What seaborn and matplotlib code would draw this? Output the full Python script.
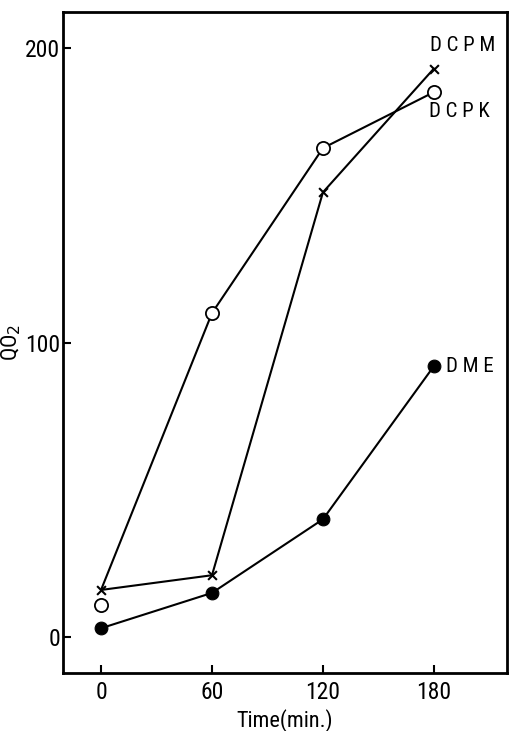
import matplotlib
matplotlib.use("Agg")
import matplotlib.pyplot as plt
import seaborn as sns
from matplotlib import font_manager

# Oxygen uptake (QO2) over time for three treatments
time_min = [0, 60, 120, 180]
dcpm = [16, 21, 151, 193]
dcpk = [11, 110, 166, 185]
dme = [3, 15, 40, 92]

x_ticks = [0, 60, 120, 180]
y_ticks = [0, 100, 200]

sns.set_theme(style="white")

# Prefer a narrow sans face when one is available
installed = {f.name for f in font_manager.fontManager.ttflist}
narrow = [n for n in ["Roboto Condensed", "Liberation Sans Narrow",
                      "Open Sans Condensed", "DejaVu Sans Condensed"]
          if n in installed]
family = (narrow or ["Liberation Sans"]) + ["DejaVu Sans"]
plt.rcParams["font.family"] = family

fig = plt.figure(figsize=(5.09, 7.31), dpi=100)
ax = fig.add_axes([0.124, 0.0793, 0.872, 0.9043])

line_kw = dict(color="black", linewidth=1.5, ax=ax, legend=False, sort=False)

# DCPK line starts from the shared zero-time reading of DCPM
dcpk_path = [dcpm[0]] + dcpk[1:]
sns.lineplot(x=time_min, y=dcpk_path, **line_kw)
sns.lineplot(x=time_min, y=dcpm, **line_kw)
sns.lineplot(x=time_min, y=dme, **line_kw)

sns.scatterplot(x=time_min, y=dcpk, marker="o", s=90, facecolor="white",
                edgecolor="black", linewidth=1.3, ax=ax, zorder=4, legend=False)
sns.scatterplot(x=time_min, y=dme, marker="o", s=85, color="black",
                edgecolor="black", ax=ax, zorder=4, legend=False)
sns.scatterplot(x=time_min, y=dcpm, marker="x", s=40, color="black",
                linewidth=1.5, ax=ax, zorder=4, legend=False)

label_kw = dict(textcoords="offset pixels", fontsize=15, ha="left",
                va="center", color="black")
ax.annotate("D C P M", (time_min[-1], dcpm[-1]), xytext=(-4, 23), **label_kw)
ax.annotate("D C P K", (time_min[-1], dcpk[-1]), xytext=(-5, -19), **label_kw)
ax.annotate("D M E", (time_min[-1], dme[-1]), xytext=(12, 0), **label_kw)

ax.set_xlim(-20.5, 219.5)
ax.set_ylim(-12.2, 212.2)
ax.set_xticks(x_ticks)
ax.set_xticklabels([str(v) for v in x_ticks])
ax.set_yticks(y_ticks)
ax.set_yticklabels([str(v) for v in y_ticks])

ax.tick_params(axis="both", direction="in", length=6, width=1.5,
               colors="black", labelsize=17)
ax.tick_params(axis="x", pad=6, bottom=True)
ax.tick_params(axis="y", pad=2, left=True)

for side in ["left", "right", "top", "bottom"]:
    ax.spines[side].set_visible(True)
    ax.spines[side].set_color("black")
    ax.spines[side].set_linewidth(2.0)

ax.set_xlabel("Time(min.)", fontsize=16, labelpad=3, color="black")
ax.set_ylabel("QO$_2$", fontsize=16, color="black")
ax.yaxis.set_label_coords(-0.09, 0.5)
ax.grid(False)

fig.savefig("out.png", dpi=100, facecolor="white")
